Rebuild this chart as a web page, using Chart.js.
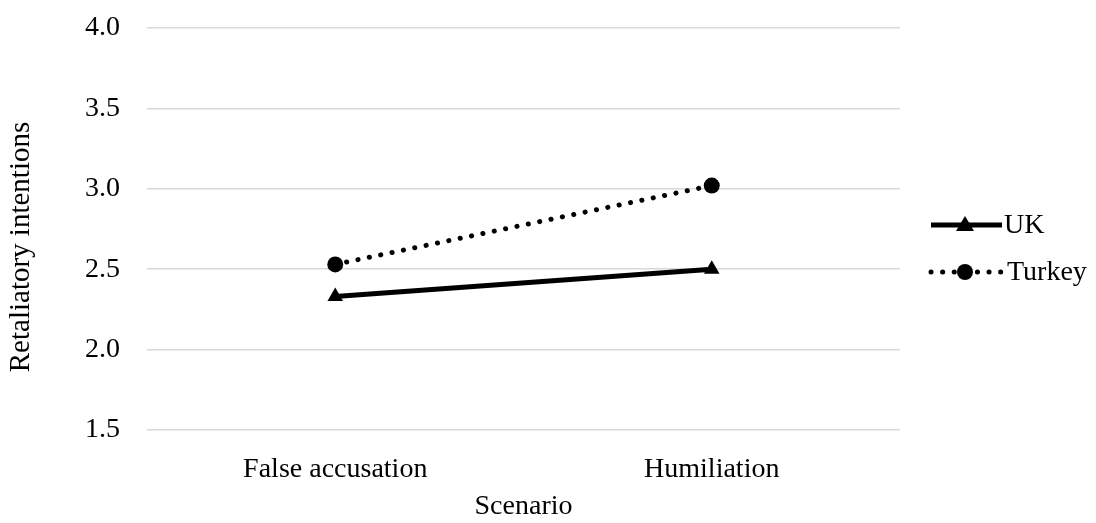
<!DOCTYPE html>
<html lang="en">
<head>
<meta charset="UTF-8">
<script src="https://cdn.jsdelivr.net/npm/chart.js"></script>
<title>Retaliatory intentions</title>
<style>
  body { margin: 0; background: #fff; }
</style>
</head>
<body>
<canvas id="myChart" width="1096" height="523"></canvas>
<script>
  // data
  const scenarios = ['False accusation', 'Humiliation'];
  const ukValues = [2.33, 2.50];
  const turkeyValues = [2.53, 3.02];
  const seriesNames = ['UK', 'Turkey'];
  const yTitle = 'Retaliatory intentions';

  const FONT = '"Liberation Serif", "Times New Roman", serif';
  const SIZE = 28;

  // legend drawn by hand: line + marker + label, plus the y title
  const sideLegend = {
    id: 'sideLegend',
    afterDraw(chart) {
      const c = chart.ctx;
      const items = [
        { label: seriesNames[0], y: 225, dash: [], style: 'triangle' },
        { label: seriesNames[1], y: 272, dash: [0.1, 11.5], style: 'circle' }
      ];
      c.save();
      items.forEach(it => {
        c.strokeStyle = '#000';
        c.fillStyle = '#000';
        c.lineWidth = 5;
        c.lineCap = it.dash.length ? 'round' : 'butt';
        c.setLineDash(it.dash);
        c.beginPath();
        c.moveTo(931, it.y);
        c.lineTo(1002, it.y);
        c.stroke();
        c.setLineDash([]);
        c.beginPath();
        if (it.style === 'triangle') {
          c.moveTo(965, it.y - 9);
          c.lineTo(974, it.y + 6);
          c.lineTo(956, it.y + 6);
          c.closePath();
        } else {
          c.arc(965, it.y, 8, 0, Math.PI * 2);
        }
        c.fill();
        c.font = SIZE + 'px ' + FONT;
        c.textBaseline = 'middle';
        c.fillText(it.label, it.style === 'triangle' ? 1004 : 1007, it.y + 1);
      });
      // y axis title
      c.translate(21, 247);
      c.rotate(-Math.PI / 2);
      c.font = '29px ' + FONT;
      c.textAlign = 'center';
      c.textBaseline = 'middle';
      c.fillStyle = '#000';
      c.fillText(yTitle, 0, 0);
      c.restore();
    }
  };

  new Chart(document.getElementById('myChart'), {
    type: 'line',
    data: {
      labels: scenarios,
      datasets: [
        {
          label: seriesNames[0],
          data: ukValues,
          borderColor: '#000',
          backgroundColor: '#000',
          borderWidth: 5,
          pointStyle: 'triangle',
          pointRadius: 9,
          pointBorderWidth: 0
        },
        {
          label: seriesNames[1],
          data: turkeyValues,
          borderColor: '#000',
          backgroundColor: '#000',
          borderWidth: 5,
          borderDash: [0.1, 11.5],
          borderCapStyle: 'round',
          pointStyle: 'circle',
          pointRadius: 8,
          pointBorderWidth: 0
        }
      ]
    },
    options: {
      responsive: false,
      animation: false,
      layout: { padding: { top: 28, right: 196, left: 0, bottom: 0 } },
      plugins: { legend: { display: false }, tooltip: { enabled: false } },
      scales: {
        x: {
          offset: true,
          grid: { display: false },
          border: { display: false },
          ticks: { color: '#000', font: { family: FONT, size: SIZE }, padding: 15 },
          title: { display: true, text: 'Scenario', color: '#000', font: { family: FONT, size: SIZE }, padding: { top: 0, bottom: 0 } },
          afterFit(scale) { scale.height = 93; scale.paddingLeft = 0; scale.paddingRight = 0; }
        },
        y: {
          min: 1.5,
          max: 4.0,
          grid: { color: '#d9d9d9', lineWidth: 1.5, drawTicks: false },
          border: { display: false },
          ticks: {
            stepSize: 0.5,
            color: '#000',
            font: { family: FONT, size: SIZE },
            padding: 27,
            callback: v => v.toFixed(1)
          },
          afterFit(scale) { scale.width = 147; scale.paddingTop = 0; scale.paddingBottom = 0; }
        }
      }
    },
    plugins: [sideLegend]
  });
</script>
</body>
</html>
